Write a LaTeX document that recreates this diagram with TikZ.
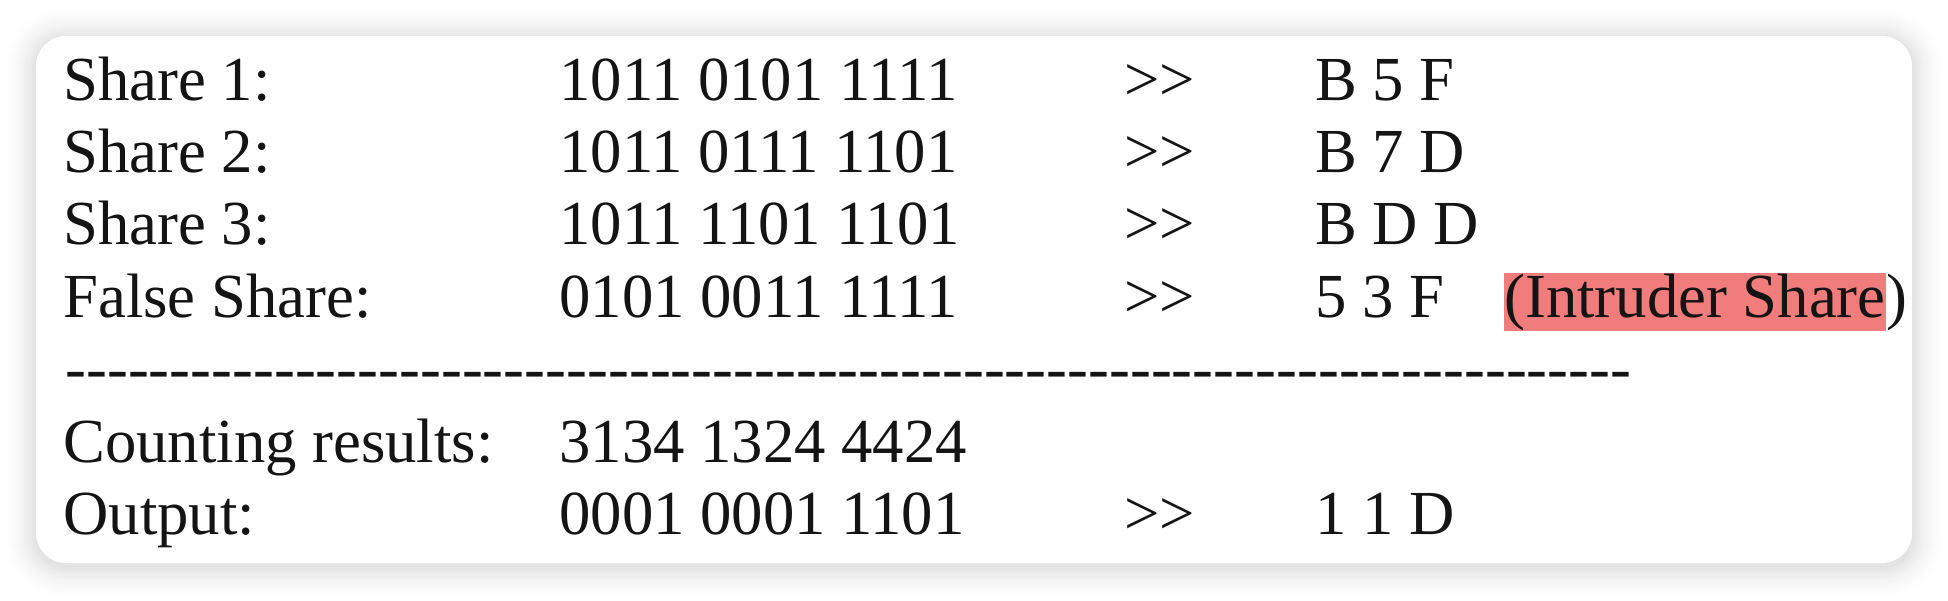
\documentclass[tikz,border=0pt]{standalone}
\usepackage{fontspec}
\setmainfont{Liberation Serif}[Ligatures=TeXOff]
\usetikzlibrary{positioning}
\definecolor{hilite}{HTML}{F07C7C}
\definecolor{inkcol}{HTML}{141414}

\begin{document}
\begin{tikzpicture}[x=0.5pt,y=-0.5pt]
	\useasboundingbox[fill=white] (0,0) rectangle (1948,600);

	% soft shadow round the card, outer layers first
	\foreach \s [evaluate=\s as \r using 15+\s,
		evaluate=\s as \k using 11*((19-\s)/18)^2] in {18,17,...,1}
		\fill[black!\k,rounded corners=\r pt] (36-2*\s,39-2*\s) rectangle (1912+2*\s,566+2*\s);
	\fill[white,rounded corners=15pt] (36,36) rectangle (1912,563);

	\begin{scope}[every node/.style={anchor=base west,inner sep=0pt,text=inkcol,
		font=\fontsize{31.35}{36}\selectfont}]
		\node (labEins) at (63,100) {Share 1:};
		\node (binEins) at (559,100) {1011 0101 1111};
		\node (arrEins) at (1124,100) {>>};
		\node (hexEins) at (1315,100) {B 5 F};

		\node (labZwei) at (63,172) {Share 2:};
		\node (binZwei) at (559,172) {1011 0111 1101};
		\node (arrZwei) at (1124,172) {>>};
		\node (hexZwei) at (1315,172) {B 7 D};

		\node (labDrei) at (63,244) {Share 3:};
		\node (binDrei) at (559,244) {1011 1101 1101};
		\node (arrDrei) at (1124,244) {>>};
		\node (hexDrei) at (1315,244) {B D D};

		\node (labFalse) at (63,317) {False Share:};
		\node (binFalse) at (559,317) {0101 0011 1111};
		\node (arrFalse) at (1124,317) {>>};
		\node (hexFalse) at (1315,317) {5 3 F};
		\node [fill=hilite,text height=22pt,text depth=7pt] (intruder) at (1504,317) {(Intruder Share};
		\node (paren) at (intruder.base east) {)};

		\node (rule) at (65,389) {---------------------------------------------------------------------------};

		\node (labCount) at (63,462) {Counting results:};
		\node (binCount) at (559,462) {3134 1324 4424};

		\node (labOut) at (63,534) {Output:};
		\node (binOut) at (559,534) {0001 0001 1101};
		\node (arrOut) at (1124,534) {>>};
		\node (hexOut) at (1315,534) {1 1 D};
	\end{scope}
\end{tikzpicture}
\end{document}
